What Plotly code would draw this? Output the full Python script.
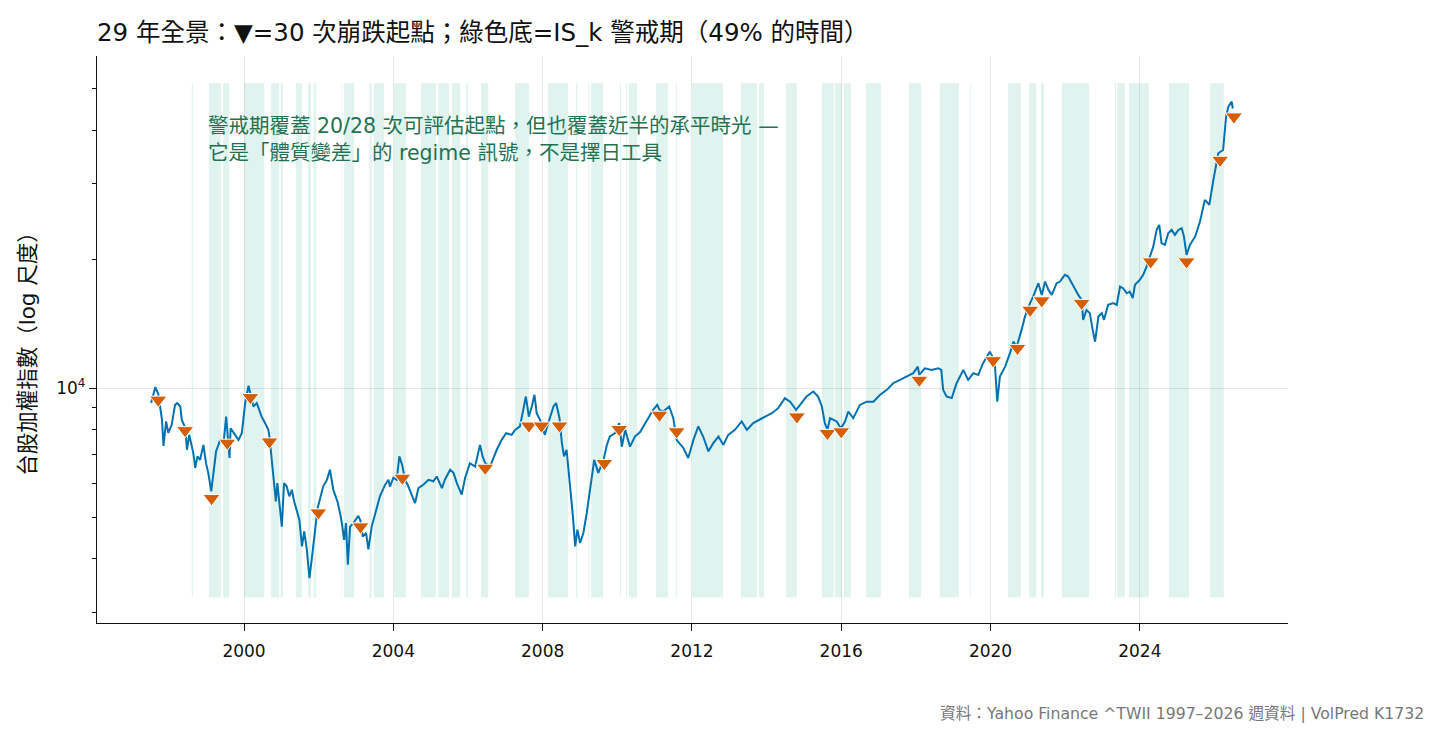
import plotly.graph_objects as go
import pandas as pd

# ---------------- data ----------------
# weekly TWII close, dates as decimal years
line_years = [
    1997.51, 1997.62, 1997.70, 1997.80, 1997.84, 1997.91, 1997.97, 1998.06, 1998.15, 1998.21,
    1998.29, 1998.33, 1998.42, 1998.47, 1998.53, 1998.64, 1998.69, 1998.75, 1998.82, 1998.91,
    1998.98, 1999.04, 1999.12, 1999.18, 1999.25, 1999.36, 1999.45, 1999.52, 1999.61, 1999.64,
    1999.76, 1999.85, 1999.94, 2000.03, 2000.12, 2000.17, 2000.25, 2000.34, 2000.41, 2000.47,
    2000.56, 2000.65, 2000.68, 2000.74, 2000.80, 2000.85, 2000.89, 2000.95, 2001.01, 2001.07,
    2001.14, 2001.21, 2001.28, 2001.34, 2001.41, 2001.48, 2001.55, 2001.61, 2001.68, 2001.75,
    2001.81, 2001.88, 2001.97, 2002.04, 2002.12, 2002.22, 2002.30, 2002.39, 2002.50, 2002.57,
    2002.62, 2002.68, 2002.73, 2002.78, 2002.84, 2002.93, 2003.06, 2003.12, 2003.18, 2003.27,
    2003.33, 2003.42, 2003.55, 2003.64, 2003.78, 2003.87, 2003.91, 2004.00, 2004.09, 2004.16,
    2004.24, 2004.31, 2004.40, 2004.49, 2004.58, 2004.67, 2004.80, 2004.94, 2005.07, 2005.16,
    2005.30, 2005.38, 2005.52, 2005.61, 2005.70, 2005.83, 2005.92, 2006.05, 2006.19, 2006.32,
    2006.39, 2006.46, 2006.59, 2006.77, 2006.90, 2007.02, 2007.17, 2007.26, 2007.39, 2007.48,
    2007.55, 2007.63, 2007.71, 2007.78, 2007.84, 2007.93, 2008.06, 2008.15, 2008.29, 2008.36,
    2008.45, 2008.51, 2008.57, 2008.64, 2008.73, 2008.81, 2008.87, 2008.93, 2009.00, 2009.09,
    2009.18, 2009.27, 2009.38, 2009.49, 2009.63, 2009.72, 2009.80, 2009.94, 2010.05, 2010.12,
    2010.21, 2010.34, 2010.47, 2010.61, 2010.79, 2010.96, 2011.07, 2011.13, 2011.23, 2011.39,
    2011.50, 2011.59, 2011.66, 2011.77, 2011.90, 2012.04, 2012.17, 2012.30, 2012.44, 2012.57,
    2012.71, 2012.84, 2012.97, 2013.15, 2013.33, 2013.47, 2013.64, 2013.78, 2013.96, 2014.14,
    2014.31, 2014.49, 2014.63, 2014.79, 2014.89, 2015.07, 2015.25, 2015.38, 2015.48, 2015.56,
    2015.63, 2015.70, 2015.88, 2015.99, 2016.10, 2016.19, 2016.32, 2016.50, 2016.68, 2016.86,
    2017.04, 2017.22, 2017.39, 2017.57, 2017.75, 2017.93, 2018.05, 2018.09, 2018.24, 2018.42,
    2018.60, 2018.68, 2018.73, 2018.82, 2018.96, 2019.09, 2019.27, 2019.40, 2019.54, 2019.67,
    2019.80, 2019.98, 2020.07, 2020.12, 2020.18, 2020.25, 2020.39, 2020.52, 2020.61, 2020.70,
    2020.83, 2020.92, 2021.06, 2021.14, 2021.28, 2021.37, 2021.46, 2021.55, 2021.64, 2021.77,
    2021.86, 2021.99, 2022.08, 2022.22, 2022.35, 2022.44, 2022.48, 2022.57, 2022.66, 2022.72,
    2022.80, 2022.89, 2022.98, 2023.04, 2023.15, 2023.29, 2023.38, 2023.47, 2023.55, 2023.65,
    2023.73, 2023.81, 2023.87, 2024.00, 2024.09, 2024.18, 2024.29, 2024.36, 2024.45, 2024.52,
    2024.58, 2024.67, 2024.76, 2024.85, 2024.94, 2025.03, 2025.12, 2025.18, 2025.25, 2025.34,
    2025.48, 2025.61, 2025.74, 2025.86, 2025.97, 2026.10, 2026.23, 2026.31, 2026.37, 2026.46,
    2026.49,
]
line_close = [
    9230, 10060, 9700, 8430, 7330, 8360, 7860, 8210, 9140, 9230,
    9060, 8430, 8100, 7180, 7780, 7050, 6510, 6930, 6800, 7370,
    6680, 6340, 5740, 6450, 7120, 7570, 7440, 8580, 6870, 8060,
    7780, 7570, 7850, 9230, 10130, 9700, 9060, 9230, 8900, 8580,
    8290, 7990, 7700, 6800, 6110, 5440, 6000, 5390, 4750, 6000,
    5900, 5590, 5790, 5440, 5150, 4930, 4270, 4630, 4200, 3600,
    3970, 4500, 5250, 5540, 5900, 6110, 6450, 5790, 5440, 5110,
    4840, 4420, 4840, 3870, 4750, 4840, 5030, 4900, 4500, 4590,
    4200, 4750, 5200, 5590, 5950, 6110, 5890, 6180, 6110, 6930,
    6600, 6110, 5900, 5640, 5390, 5840, 5950, 6110, 6060, 6220,
    5840, 6110, 6450, 6340, 6000, 5640, 6170, 6680, 6560, 7370,
    6930, 6680, 6560, 7180, 7570, 7850, 7780, 7990, 8140, 8900,
    9560, 8580, 9060, 9650, 8740, 8430, 7780, 8290, 9060, 9230,
    8520, 7500, 6930, 7180, 6000, 5010, 4270, 4670, 4350, 4590,
    5110, 5790, 6800, 6340, 6800, 7370, 7710, 7850, 8290, 7300,
    7990, 7300, 7710, 7900, 8430, 8900, 9140, 8900, 8820, 9060,
    8510, 7570, 7440, 7250, 6870, 7570, 8140, 7710, 7120, 7440,
    7710, 7370, 7780, 7990, 8360, 7990, 8290, 8430, 8580, 8740,
    8980, 9480, 9300, 8900, 9140, 9560, 9820, 9560, 9060, 8290,
    7990, 8510, 8360, 8050, 8360, 8820, 8510, 9140, 9300, 9300,
    9650, 9910, 10270, 10450, 10640, 10840, 11230, 10740, 11130, 11030,
    11130, 11030, 9910, 9560, 9480, 10270, 11030, 10450, 10840, 10740,
    11440, 12170, 11770, 11230, 9300, 10640, 11230, 12070, 12840, 12510,
    13680, 14700, 15820, 16360, 17590, 16510, 17740, 16960, 16510, 17590,
    17740, 18390, 18220, 17270, 16510, 16080, 14440, 15230, 14970, 13920,
    12840, 14700, 14970, 14440, 15650, 15800, 15650, 17270, 17120, 16660,
    16810, 16230, 17430, 17900, 18390, 19230, 20480, 21410, 23420, 24060,
    21810, 21610, 23010, 23420, 22800, 23420, 23640, 22600, 20480, 21610,
    22600, 24490, 27520, 26790, 30640, 35370, 36000, 43060, 45440, 46680,
    45000,
]

# 30 crash-start points (as plotted)
crash_years = [
    1997.70, 1998.42, 1999.13, 1999.55, 2000.17, 2000.68, 2001.99, 2003.12, 2004.24, 2006.46,
    2007.63, 2007.97, 2008.45, 2009.65, 2010.05, 2011.13, 2011.59, 2014.81, 2015.63, 2016.00,
    2018.09, 2020.07, 2020.72, 2021.06, 2021.37, 2022.44, 2024.29, 2025.25, 2026.15, 2026.52,
]
crash_values = [
    9390, 7970, 5530, 7450, 9520, 7500, 5120, 4750, 6170, 6510,
    8170, 8170, 8170, 6680, 8020, 8660, 7920, 8580, 7850, 7920,
    10450, 11610, 12400, 15230, 16020, 15800, 19750, 19750, 34100, 43060,
]

# IS_k alert periods (start, end) in decimal years
alert_start = [
    1998.60, 1999.06, 1999.44, 2000.00, 2000.72, 2000.98, 2001.39, 2001.71, 2001.86, 2002.61,
    2002.68, 2003.36, 2003.48, 2004.02, 2004.74, 2005.20, 2005.57, 2005.95, 2006.35, 2007.26,
    2008.14, 2008.89, 2009.22, 2009.30, 2010.07, 2010.23, 2010.31, 2011.04, 2011.57, 2012.00,
    2013.31, 2013.80, 2014.52, 2015.48, 2015.83, 2016.07, 2016.66, 2017.81, 2018.64, 2019.45,
    2020.47, 2021.03, 2021.35, 2021.91, 2023.33, 2023.39, 2023.71, 2024.78, 2025.88,
]
alert_end = [
    1998.63, 1999.38, 1999.60, 2000.54, 2000.94, 2001.04, 2001.55, 2001.79, 2001.93, 2002.63,
    2002.95, 2003.42, 2003.75, 2004.34, 2005.14, 2005.49, 2005.79, 2006.00, 2006.54, 2007.63,
    2008.68, 2008.93, 2009.25, 2009.62, 2010.10, 2010.26, 2010.53, 2011.36, 2011.60, 2012.83,
    2013.74, 2013.93, 2014.81, 2015.80, 2016.02, 2016.26, 2017.06, 2018.14, 2019.15, 2019.47,
    2020.81, 2021.22, 2021.43, 2022.64, 2023.36, 2023.60, 2024.24, 2025.32, 2026.25,
]

tick_years = [2000, 2004, 2008, 2012, 2016, 2020, 2024]
tick_labels = ["2000", "2004", "2008", "2012", "2016", "2020", "2024"]

title_text = "29 年全景：▼=30 次崩跌起點；綠色底=IS_k 警戒期（49% 的時間）"
note_text = "警戒期覆蓋 20/28 次可評估起點，但也覆蓋近半的承平時光 —<br>它是「體質變差」的 regime 訊號，不是擇日工具"
ylabel_text = "台股加權指數（log 尺度）"
source_text = "資料：Yahoo Finance ^TWII 1997–2026 週資料 | VolPred K1732"


def yr2dt(y):
    yr = int(y)
    start = pd.Timestamp(year=yr, month=1, day=1)
    end = pd.Timestamp(year=yr + 1, month=1, day=1)
    return start + (end - start) * (y - yr)


FONT = "'DejaVu Sans', 'Noto Sans CJK TC', 'Noto Sans CJK SC', sans-serif"
BLUE = "#0072B2"
ORANGE = "#D55E00"
GREEN_TXT = "#1f7353"
BAND = "rgba(0,158,115,0.12)"

fig = go.Figure()

fig.add_trace(go.Scatter(
    x=[yr2dt(v) for v in line_years], y=line_close, mode="lines",
    line=dict(color=BLUE, width=2), hoverinfo="skip", showlegend=False,
))
fig.add_trace(go.Scatter(
    x=[yr2dt(v) for v in crash_years], y=crash_values, mode="markers",
    marker=dict(symbol="triangle-down", size=15, color=ORANGE,
                line=dict(color="white", width=1)),
    showlegend=False,
))

for s, e in zip(alert_start, alert_end):
    fig.add_shape(type="rect", xref="x", yref="paper",
                  x0=yr2dt(s), x1=yr2dt(e), y0=0.045, y1=0.952,
                  fillcolor=BAND, line=dict(width=0), layer="below")

fig.update_layout(
    width=1441, height=738,
    margin=dict(l=97, r=153, t=56, b=115, autoexpand=False),
    paper_bgcolor="white", plot_bgcolor="white",
    font=dict(family=FONT, size=15, color="#111111"),
    title=dict(text=title_text, x=97 / 1441, xref="container", xanchor="left",
               y=1 - 32 / 738, yref="container", yanchor="middle",
               font=dict(family=FONT, size=24.5, color="#111111")),
    showlegend=False,
)

fig.update_xaxes(
    type="date",
    range=[yr2dt(1996.06), yr2dt(2027.97)],
    tickvals=[yr2dt(v) for v in tick_years], ticktext=tick_labels,
    showline=True, linecolor="#111111", linewidth=1.3,
    ticks="outside", ticklen=7, tickwidth=1.3, tickcolor="#111111",
    ticklabelstandoff=5,
    showgrid=True, gridcolor="rgba(0,0,0,0.09)", gridwidth=1,
    zeroline=False, mirror=False,
    tickfont=dict(size=17, family=FONT, color="#111111"),
)
fig.update_yaxes(
    type="log",
    range=[3.4515, 4.7758],
    tickvals=[10000], ticktext=["10<sup>4</sup>"],
    showline=True, linecolor="#111111", linewidth=1.3,
    ticks="outside", ticklen=7, tickwidth=1.3, tickcolor="#111111",
    showgrid=True, gridcolor="rgba(0,0,0,0.09)", gridwidth=1,
    zeroline=False, mirror=False,
    tickfont=dict(size=17, family=FONT, color="#111111"),
    minor=dict(tickmode="array",
               tickvals=[3000, 4000, 5000, 6000, 7000, 8000, 9000, 20000, 30000, 40000, 50000],
               ticks="outside", ticklen=3.5, tickwidth=1, tickcolor="#111111", showgrid=False),
)

fig.add_annotation(text=note_text, xref="paper", yref="paper",
                   x=(206 - 97) / 1191, y=(623.3 - 112) / 567.3,
                   xanchor="left", yanchor="top", align="left", showarrow=False,
                   font=dict(family=FONT, size=20.5, color=GREEN_TXT))
fig.add_annotation(text=ylabel_text, xref="paper", yref="paper",
                   x=(28 - 97) / 1191, y=(623.3 - 349) / 567.3, textangle=-90,
                   xanchor="center", yanchor="middle", showarrow=False,
                   font=dict(family=FONT, size=21.5, color="#111111"))
fig.add_annotation(text=source_text, xref="paper", yref="paper",
                   x=(1426 - 97) / 1191, y=(623.3 - 714) / 567.3,
                   xanchor="right", yanchor="middle", showarrow=False,
                   font=dict(family=FONT, size=15.7, color="#777777"))

fig.write_html("out.html")
